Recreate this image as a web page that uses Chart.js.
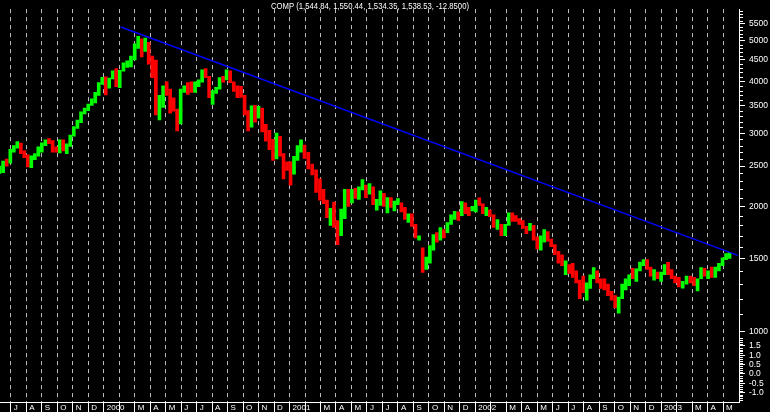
<!DOCTYPE html>
<html>
<head>
<meta charset="utf-8">
<script src="https://cdn.jsdelivr.net/npm/chart.js@4.4.0/dist/chart.umd.min.js"></script>
<style>
  html, body { margin: 0; padding: 0; background: #000; }
  #wrap { width: 770px; height: 412px; }
</style>
</head>
<body>
<div id="wrap"><canvas id="grafico"></canvas></div>
<script>
// weekly bars, first week centred on Wed 9 Jun 1999
const lo = [
  2400, 2410, 2500, 2540, 2700, 2760, 2680, 2620, 2490, 2480, 2590, 2640, 2700, 2800, 2830, 2700, 2700, 2690, 2720, 2680,
  2790, 2950, 3080, 3180, 3340, 3400, 3500, 3550, 3700, 3930,
  3711, 3850, 4050, 3880, 3860, 4230, 4320, 4330, 4500, 4800, 4580, 4720, 4400, 4080, 3320, 3230, 3460, 3700, 3350, 3390,
  3040, 3160, 3760, 3720, 3760, 3760, 3880, 3980, 4080, 3650, 3520, 3740, 3830, 3980, 4030, 3970, 3780, 3650, 3660, 3320,
  3040, 3100, 3190, 3260, 3020, 2870, 2740, 2580, 2600, 2640, 2330, 2440,
  2250, 2390, 2580, 2700, 2610, 2460, 2380, 2160, 2070, 2030, 1880, 1800, 1780, 1619, 1700, 1870, 2000, 2040, 2090, 2080,
  2190, 2100, 2140, 2020, 1960, 2010, 2000, 1930, 1990, 1950, 2020, 1940, 1860, 1830, 1790, 1680, 1660, 1387, 1410, 1460,
  1570, 1640, 1660, 1680, 1730, 1810, 1860, 1850, 1900, 1920, 1900, 1950,
  1940, 2010, 1920, 1900, 1890, 1780, 1760, 1700, 1700, 1800, 1840, 1840, 1810, 1770, 1720, 1750, 1660, 1580, 1570, 1640,
  1650, 1600, 1530, 1460, 1440, 1370, 1380, 1350, 1310, 1200, 1240, 1190, 1270, 1340, 1310, 1270, 1260, 1220, 1190, 1140,
  1108, 1200, 1260, 1290, 1340, 1320, 1400, 1440, 1410, 1360, 1330, 1340,
  1320, 1370, 1370, 1340, 1310, 1280, 1271, 1300, 1310, 1290, 1253, 1340, 1360, 1340, 1350, 1350, 1400, 1440, 1490, 1500
];
const hi = [
  2500, 2570, 2600, 2745, 2800, 2864, 2840, 2720, 2660, 2645, 2680, 2780, 2845, 2890, 2910, 2880, 2780, 2890, 2890, 2830,
  2970, 3110, 3225, 3375, 3450, 3525, 3630, 3760, 3970, 4090,
  4100, 4070, 4240, 4290, 4250, 4430, 4480, 4600, 4920, 5132, 5060, 5080, 4960, 4600, 4500, 3700, 3900, 3990, 3830, 3650,
  3430, 3830, 3900, 3970, 3990, 3990, 4030, 4260, 4289, 4110, 3800, 3870, 4080, 4110, 4260, 4240, 3990, 3900, 3890, 3700,
  3400, 3490, 3500, 3480, 3450, 3150, 3050, 2900, 3000, 2950, 2680, 2560,
  2560, 2640, 2800, 2892, 2810, 2700, 2530, 2450, 2330, 2200, 2070, 1980, 2050, 1850, 1970, 2200, 2200, 2200, 2210, 2230,
  2320, 2250, 2270, 2230, 2080, 2180, 2150, 2100, 2100, 2060, 2090, 2040, 1990, 1920, 1920, 1810, 1700, 1590, 1510, 1610,
  1710, 1730, 1780, 1760, 1830, 1910, 1945, 1940, 2055, 2040, 1990, 2000,
  2070, 2098, 2030, 1990, 1960, 1910, 1860, 1810, 1810, 1930, 1930, 1900, 1870, 1850, 1790, 1820, 1800, 1690, 1700, 1760,
  1740, 1670, 1620, 1560, 1530, 1480, 1450, 1460, 1400, 1330, 1360, 1310, 1370, 1425, 1400, 1340, 1340, 1300, 1250, 1220,
  1210, 1300, 1340, 1370, 1420, 1415, 1470, 1490, 1490, 1430, 1410, 1390,
  1390, 1450, 1467, 1410, 1360, 1350, 1320, 1360, 1360, 1350, 1340, 1425, 1420, 1400, 1430, 1430, 1460, 1505, 1540, 1550
];
const cl = [
  2447, 2563, 2552, 2741, 2793, 2818, 2692, 2638, 2547, 2637, 2648, 2758, 2843, 2887, 2869, 2740, 2736, 2887, 2731, 2801,
  2967, 3102, 3221, 3370, 3447, 3520, 3620, 3753, 3969, 4069,
  3882, 4064, 4235, 3887, 4244, 4395, 4411, 4590, 4914, 5048, 4798, 4963, 4573, 4446, 3321, 3643, 3860, 3817, 3529, 3390,
  3205, 3813, 3874, 3860, 3845, 3966, 4024, 4246, 4094, 3663, 3787, 3849, 4070, 4042, 4235, 3978, 3835, 3803, 3673, 3361,
  3316, 3483, 3278, 3451, 3028, 3027, 2904, 2645, 2917, 2654, 2517, 2471,
  2407, 2626, 2770, 2782, 2661, 2470, 2425, 2262, 2118, 2052, 1890, 1928, 1840, 1720, 1961, 2163, 2075, 2192, 2107, 2199,
  2251, 2149, 2215, 2028, 2034, 2161, 2004, 2085, 2029, 2030, 2066, 1956, 1867, 1916, 1805, 1687, 1695, 1423, 1499, 1605,
  1703, 1671, 1768, 1746, 1828, 1898, 1941, 1930, 2021, 1953, 1945, 1987,
  2059, 2022, 1930, 1937, 1911, 1782, 1805, 1724, 1802, 1929, 1868, 1852, 1845, 1770, 1756, 1796, 1663, 1613, 1652, 1741,
  1662, 1615, 1535, 1505, 1440, 1463, 1448, 1373, 1319, 1262, 1247, 1306, 1361, 1380, 1315, 1295, 1291, 1221, 1199, 1139,
  1210, 1287, 1331, 1360, 1359, 1411, 1468, 1479, 1422, 1362, 1364, 1348,
  1387, 1448, 1376, 1342, 1320, 1283, 1310, 1349, 1337, 1305, 1340, 1421, 1369, 1383, 1358, 1425, 1434, 1502, 1520, 1538
];

// x axis: one tick per month, 0 = July 1999
const monthLabels = ['J', 'A', 'S', 'O', 'N', 'D',
  '2000', '', 'M', 'A', 'M', 'J', 'J', 'A', 'S', 'O', 'N', 'D',
  '2001', '', 'M', 'A', 'M', 'J', 'J', 'A', 'S', 'O', 'N', 'D',
  '2002', '', 'M', 'A', 'M', 'J', 'J', 'A', 'S', 'O', 'N', 'D',
  '2003', '', 'M', 'A', 'M'];
const priceLabels = [1000, 1500, 2000, 2500, 3000, 3500, 4000, 4500, 5000, 5500];
const oscLabels = [-1.0, -0.5, 0.0, 0.5, 1.0, 1.5];

// trend line ends (month position, price)
const trendX = [7.1, 46.96];
const trendY = [5400, 1525];

const header = 'COMP (1,544.84, 1,550.44, 1,534.35, 1,538.53, -12.8500)';

const verde = '#00ff00';
const vermelho = '#ff0000';

function posMes(t) {
  const d = new Date(t);
  const a = d.getUTCFullYear(), m = d.getUTCMonth(), dia = d.getUTCDate();
  const dias = new Date(Date.UTC(a, m + 1, 0)).getUTCDate();
  return (a - 1999) * 12 + (m - 6) + (dia - 1) / dias;
}

const inicio = Date.UTC(1999, 5, 9);
const barras = cl.map((c, i) => ({ x: posMes(inicio + i * 7 * 864e5), y: [lo[i], hi[i]] }));
const cores = cl.map((c, i) => (i === 0 || c >= cl[i - 1]) ? verde : vermelho);
const tendencia = trendX.map((x, i) => ({ x: x, y: trendY[i] }));

const fonte = { family: 'Liberation Sans', size: 8.5 };

const extras = {
  id: 'extras',
  afterDraw(chart) {
    const ctx = chart.ctx;
    const y = chart.scales.y, y2 = chart.scales.y2;
    ctx.save();
    ctx.strokeStyle = '#fff';
    ctx.lineWidth = 1;
    ctx.beginPath();
    for (let v = 1000; v < 6000; v += 100) {
      if (v % 500 === 0) continue;
      const p = Math.round(y.getPixelForValue(v)) + 0.5;
      ctx.moveTo(y.left, p);
      ctx.lineTo(y.left + 4, p);
    }
    for (let k = -14; k <= 19; k++) {
      if (k % 5 === 0) continue;
      const p = Math.round(y2.getPixelForValue(k / 10)) + 0.5;
      ctx.moveTo(y2.left, p);
      ctx.lineTo(y2.left + 4, p);
    }
    ctx.stroke();

    // título no topo do gráfico
    ctx.font = '9px "Liberation Sans"';
    ctx.fillStyle = '#fff';
    ctx.textBaseline = 'middle';
    const w = ctx.measureText(header).width;
    ctx.translate(271, 7);
    ctx.scale(198 / w, 1);
    ctx.fillText(header, 0, 0);
    ctx.restore();
  }
};

new Chart(document.getElementById('grafico'), {
  type: 'bar',
  data: {
    datasets: [
      {
        type: 'line',
        data: tendencia,
        borderColor: '#0000ff',
        borderWidth: 1.5,
        pointRadius: 0,
        order: 0,
        yAxisID: 'y'
      },
      {
        type: 'bar',
        data: barras,
        backgroundColor: cores,
        borderWidth: 0,
        barThickness: 3,
        order: 1,
        yAxisID: 'y'
      }
    ]
  },
  options: {
    responsive: true,
    maintainAspectRatio: false,
    animation: false,
    layout: { padding: 0, autoPadding: false },
    plugins: { legend: { display: false }, tooltip: { enabled: false } },
    scales: {
      x: {
        type: 'linear',
        position: 'bottom',
        offset: false,
        bounds: 'data',
        min: -0.7,
        max: 47.03,
        afterBuildTicks: s => { s.ticks = monthLabels.map((_, i) => ({ value: i })); },
        afterFit: s => { s.height = 10; },
        grid: { offset: false, color: '#bdbdbd', lineWidth: 1, tickLength: 10, tickColor: '#fff' },
        border: { display: true, color: '#fff', width: 1, dash: [4, 4] },
        ticks: {
          autoSkip: false,
          maxRotation: 0,
          align: 'start',
          labelOffset: 3,
          padding: -9,
          color: '#fff',
          font: { family: 'Liberation Sans', size: 8 },
          callback: v => monthLabels[Math.round(v)]
        }
      },
      y: {
        type: 'logarithmic',
        position: 'right',
        stack: 'painel',
        stackWeight: 5,
        bounds: 'data',
        min: 973,
        max: 5965,
        afterBuildTicks: s => { s.ticks = priceLabels.map(v => ({ value: v })); },
        afterFit: s => { s.width = 31; },
        grid: { drawOnChartArea: false, tickLength: 6, tickColor: '#fff' },
        border: { display: true, color: '#fff', width: 1 },
        ticks: { autoSkip: false, color: '#fff', padding: 4, font: fonte, callback: v => String(v) }
      },
      y2: {
        type: 'linear',
        position: 'right',
        stack: 'painel',
        stackWeight: 1,
        bounds: 'data',
        min: -1.5,
        max: 2.0,
        afterBuildTicks: s => { s.ticks = oscLabels.map(v => ({ value: v })); },
        afterFit: s => { s.width = 31; },
        grid: { drawOnChartArea: false, tickLength: 6, tickColor: '#fff' },
        border: { display: true, color: '#fff', width: 1 },
        ticks: { autoSkip: false, color: '#fff', padding: 4, font: fonte, callback: v => v.toFixed(1) }
      }
    }
  },
  plugins: [extras]
});
</script>
</body>
</html>
